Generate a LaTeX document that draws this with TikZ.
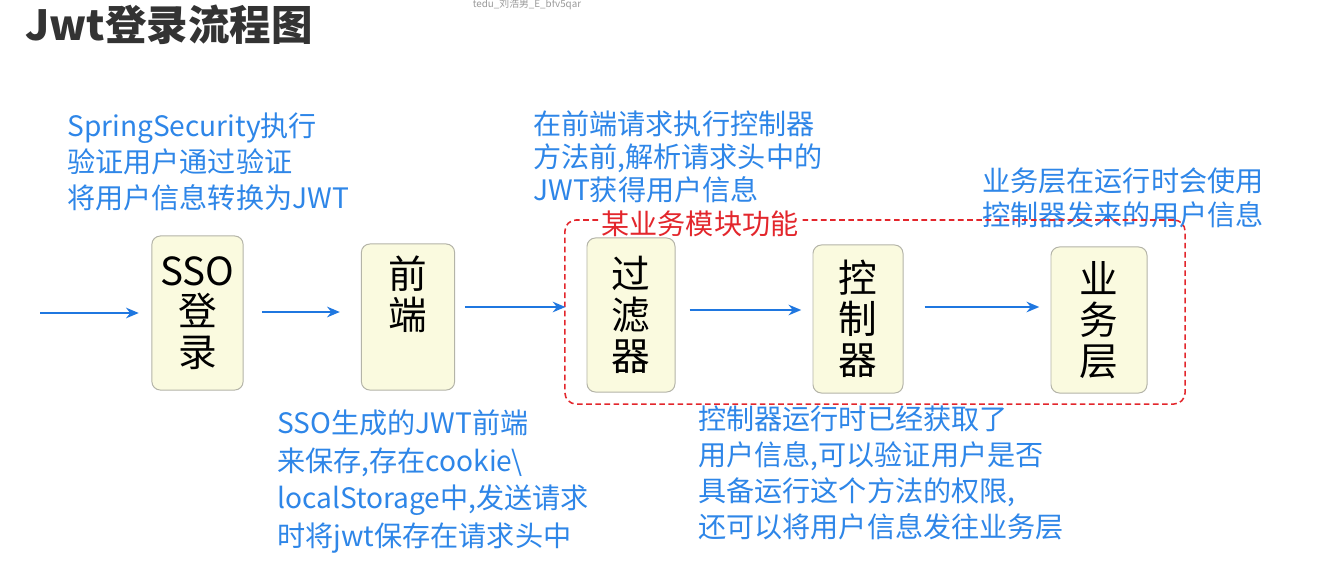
\documentclass[tikz,border=0pt]{standalone}
\usepackage{fontspec}
\usepackage{xcolor}
\usetikzlibrary{arrows.meta,positioning,calc}
\setmainfont{Noto Sans CJK SC}
\newfontfamily\cjk{Noto Sans CJK SC}
\definecolor{titleink}{HTML}{333333}
\definecolor{noteblue}{HTML}{2E86E8}
\definecolor{flowblue}{HTML}{1F77E0}
\definecolor{modred}{HTML}{E3262C}
\definecolor{boxfill}{HTML}{FAFADF}
\definecolor{boxline}{HTML}{B4B4A8}
\definecolor{markgray}{HTML}{9A9A9A}
\tikzset{
  stagebox/.style={draw=boxline,fill=boxfill,line width=0.7pt,rounded corners=6pt,
                   align=center,inner sep=0pt,text=black,
                   font=\cjk\fontsize{27.5}{29}\selectfont},
  note/.style={anchor=north west,inner sep=0pt,align=left,text=noteblue,
               font=\cjk\fontsize{20}{25.6}\selectfont},
  flow/.style={-{Stealth[length=9pt,width=7.5pt]},line width=1.6pt,draw=flowblue},
  module/.style={draw=modred,dashed,dash pattern=on 4pt off 2.5pt,line width=1.1pt,
                 rounded corners=8pt,inner sep=0pt},
  modlabel/.style={text=modred,inner sep=1pt,fill=white,
                   font=\cjk\fontsize{20}{22}\selectfont}
}
\begin{document}
\begin{tikzpicture}[x=0.025cm,y=-0.025cm]
    \path[use as bounding box,fill=white] (0,0) rectangle (1325,572);

    \node[anchor=west,inner sep=0pt,text=titleink,font=\cjk\bfseries\fontsize{29.5}{32}\selectfont]
      (title) at (25,25) {Jwt登录流程图};
    \node[text=markgray,inner sep=0pt,font=\cjk\fontsize{7}{8}\selectfont]
      (mark) at (527,4) {tedu\_刘浩男\_E\_bfv5qar};

    % notes above and below the chain
    \node[note] (noteA) at (67,113)
      {SpringSecurity执行\\验证用户通过验证\\将用户信息转换为JWT};
    \node[note,font=\cjk\fontsize{20}{23.8}\selectfont] (noteB) at (533,110)
      {在前端请求执行控制器\\方法前,解析请求头中的\\JWT获得用户信息};
    \node[note,font=\cjk\fontsize{20}{23.5}\selectfont] (noteC) at (982,168)
      {业务层在运行时会使用\\控制器发来的用户信息};
    \node[note,font=\cjk\fontsize{20}{27}\selectfont] (noteD) at (277,409)
      {SSO生成的JWT前端\\来保存,存在cookie\textbackslash\\localStorage中,发送请求\\时将jwt保存在请求头中};
    \node[note] (noteE) at (698,406)
      {控制器运行时已经获取了\\用户信息,可以验证用户是否\\具备运行这个方法的权限,\\还可以将用户信息发往业务层};

    % business module frame
    \node[module,minimum width=15.5cm,minimum height=4.6cm] (mod) at (875,312) {};
    \node[modlabel] (modname) at (700,224) {某业务模块功能};

    % stages
    \node[stagebox,minimum width=2.28cm,minimum height=3.85cm] (sso) at (197.5,313) {SSO\\登\\录};
    \node[stagebox,minimum width=2.33cm,minimum height=3.65cm,text depth=1.2cm] (fe) at (408,317) {前\\端};
    \node[stagebox,minimum width=2.2cm,minimum height=3.85cm] (filter) at (631,315) {过\\滤\\器};
    \node[stagebox,minimum width=2.25cm,minimum height=3.7cm] (ctrl) at (858,319) {控\\制\\器};
    \node[stagebox,minimum width=2.4cm,minimum height=3.65cm] (biz) at (1099,320) {业\\务\\层};

    \coordinate (in) at (40,313);
    \draw[flow,shorten >=9] (in) -- (in -| sso.west);
    \draw[flow,shorten <=13,shorten >=15] ($(sso.east)+(0,-1)$) -- ($(sso.east -| fe.west)+(0,-1)$);
    \draw[flow,shorten <=7,shorten >=15] ($(fe.east)+(0,-10)$) -- ($(fe.east -| filter.west)+(0,-10)$);
    \draw[flow,shorten <=10,shorten >=8] ($(filter.east)+(0,-5)$) -- ($(filter.east -| ctrl.west)+(0,-5)$);
    \draw[flow,shorten <=15,shorten >=8] ($(ctrl.east)+(0,-12)$) -- ($(ctrl.east -| biz.west)+(0,-12)$);
\end{tikzpicture}
\end{document}
